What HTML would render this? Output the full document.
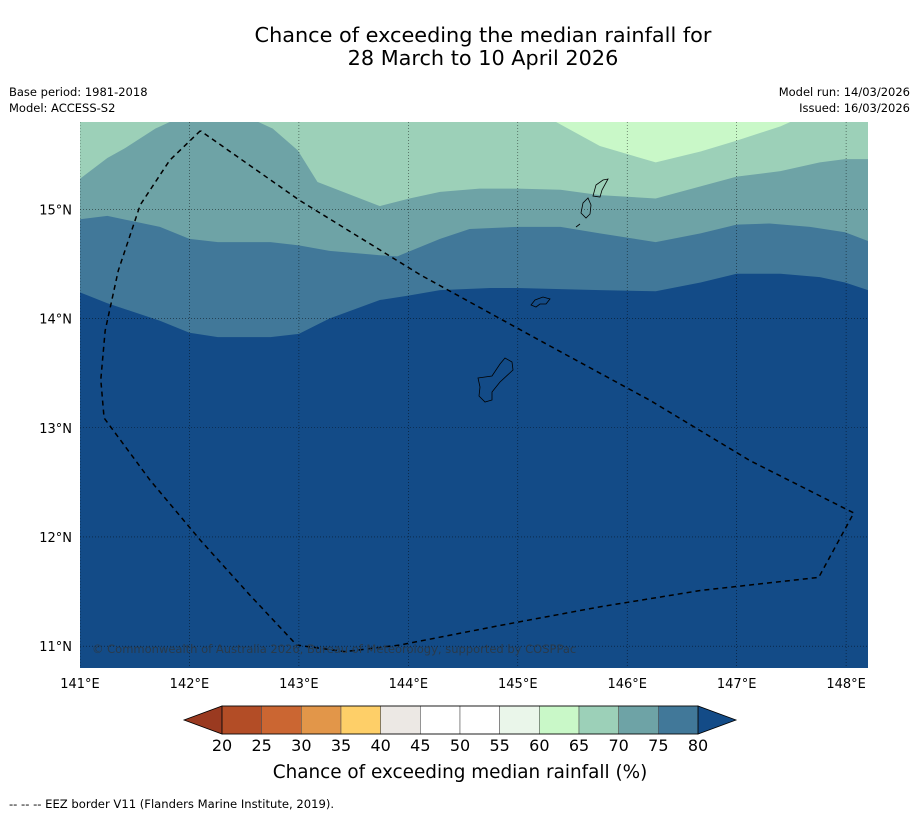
<!DOCTYPE html>
<html><head><meta charset="utf-8"><style>
body{margin:0;background:#fff;}
svg text{font-family:"DejaVu Sans","Liberation Sans",sans-serif;}
</style></head><body>
<svg id="chart" width="919" height="816" viewBox="0 0 919 816" xmlns="http://www.w3.org/2000/svg">
<text x="483" y="42" font-size="20.8" text-anchor="middle">Chance of exceeding the median rainfall for</text>
<text x="483" y="65" font-size="20.8" text-anchor="middle">28 March to 10 April 2026</text>
<text x="9" y="96" font-size="11.5">Base period: 1981-2018</text>
<text x="9" y="112" font-size="11.5">Model: ACCESS-S2</text>
<text x="910" y="96" font-size="11.5" text-anchor="end">Model run: 14/03/2026</text>
<text x="910" y="112" font-size="11.5" text-anchor="end">Issued: 16/03/2026</text>
<defs><clipPath id="mapclip"><rect x="80" y="122" width="788" height="546"/></clipPath></defs>
<g id="map" clip-path="url(#mapclip)"></g>
<g id="axes"></g>
<g id="cbar"></g>
<text x="460" y="778" font-size="18.4" text-anchor="middle">Chance of exceeding median rainfall (%)</text>
<text x="9" y="808" font-size="11.6">--  --  -- EEZ border V11 (Flanders Marine Institute, 2019).</text>
</svg>
<script>
const lonTicks=[141,142,143,144,145,146,147,148];
const latTicks=[11,12,13,14,15];
const cLevels=[20,25,30,35,40,45,50,55,60,65,70,75,80];
const cColors=["#b34d26","#cb6632","#e29649","#fecf68","#ece8e4","#ffffff","#ffffff","#eaf6ea","#c9f8c8","#9cd0b8","#6ea3a6","#417899"];
const b80Lon=[141,141.25,141.73,142,142.26,142.74,143,143.28,143.74,144,144.29,144.75,145,145.39,145.75,146.26,146.67,147,147.4,147.76,147.99,148.2];
const b80Lat=[14.24,14.14,13.98,13.87,13.83,13.83,13.86,14.0,14.17,14.21,14.26,14.28,14.28,14.27,14.26,14.25,14.33,14.41,14.41,14.38,14.33,14.26];
const b75Lon=[141,141.25,141.73,142,142.26,142.74,143,143.28,143.74,143.9,144.29,144.56,145,145.39,145.75,146.26,146.67,147,147.3,147.67,147.99,148.2];
const b75Lat=[14.91,14.94,14.84,14.73,14.70,14.70,14.67,14.62,14.58,14.57,14.73,14.82,14.84,14.84,14.78,14.70,14.78,14.86,14.87,14.84,14.79,14.71];
const b70Lon=[141,141.25,141.41,141.69,141.82,142.63,142.76,142.99,143.17,143.74,144.01,144.29,144.65,145,145.39,145.75,146.26,146.67,147,147.4,147.76,147.99,148.2];
const b70Lat=[15.28,15.47,15.56,15.74,15.80,15.80,15.74,15.54,15.25,15.03,15.10,15.16,15.19,15.19,15.18,15.13,15.10,15.21,15.30,15.35,15.43,15.46,15.46];
const b65Lon=[145.35,145.75,146.26,146.67,147,147.4,147.49];
const b65Lat=[15.80,15.58,15.43,15.53,15.63,15.76,15.80];
const eezLon=[142.1,141.82,141.55,141.35,141.23,141.19,141.22,141.64,142.1,142.55,142.98,143.42,143.92,144.84,145.75,146.67,147.75,148.07,147.99,147.12,146.21,145.2,144.11,143.01,142.1];
const eezLat=[15.72,15.45,15.04,14.44,13.89,13.44,13.09,12.52,11.97,11.47,11.01,10.95,11.01,11.19,11.36,11.51,11.63,12.22,12.26,12.70,13.25,13.80,14.40,15.08,15.72];
const LON0=141,LON1=148.2,LAT0=10.8,LAT1=15.8;
const X0=80,X1=868,Y0=122,Y1=668;
const xs=l=>X0+(l-LON0)/(LON1-LON0)*(X1-X0);
const ys=l=>Y1-(l-LAT0)/(LAT1-LAT0)*(Y1-Y0);
const NS="http://www.w3.org/2000/svg";
function mk(t,a,p){const e=document.createElementNS(NS,t);for(const k in a)e.setAttribute(k,a[k]);p.appendChild(e);return e;}
const map=document.getElementById('map');
const bg=mk('rect',{x:X0,y:Y0,width:X1-X0,height:Y1-Y0,fill:'#134b87'},map);


function band(lons,lats,col,name){
  let pts=lons.map((l,i)=>xs(l)+','+ys(lats[i]));
  pts.push(xs(lons[lons.length-1])+','+ys(LAT1));pts.push(xs(lons[0])+','+ys(LAT1));
  const p=mk('polygon',{points:pts.join(' '),fill:col},map);
  
  
}
band(b80Lon,b80Lat,cColors[11],'band-75-80');
band(b75Lon,b75Lat,cColors[10],'band-70-75');
band(b70Lon,b70Lat,cColors[9],'band-65-70');
band(b65Lon,b65Lat,cColors[8],'band-60-65');
lonTicks.forEach(l=>{const g=mk('line',{x1:xs(l),x2:xs(l),y1:Y0,y2:Y1,stroke:'#000','stroke-width':0.6,'stroke-dasharray':'1,2',opacity:0.7},map);

});
latTicks.forEach(l=>{const g=mk('line',{x1:X0,x2:X1,y1:ys(l),y2:ys(l),stroke:'#000','stroke-width':0.6,'stroke-dasharray':'1,2',opacity:0.7},map);

});
const isl=["M478,378 L492,376 L500,364 L505,358 L512,362 L513,370 L500,382 L492,392 L492,400 L485,402 L479,396 L480,387 Z",
"M531,305 L535,300 L543,297 L550,299 L546,304 L540,304 L536,307 Z",
"M581,213 L583,203 L588,198 L591,205 L590,214 L586,218 Z",
"M593,196 L596,185 L603,180 L608,179 L602,190 L600,197 Z",
"M576,227 L580,224"];
isl.forEach(d=>{const p=mk('path',{d:d,fill:'none',stroke:'#000','stroke-width':0.8},map);

});
const eez=mk('polyline',{points:eezLon.map((l,i)=>xs(l)+','+ys(eezLat[i])).join(' '),fill:'none',stroke:'#000','stroke-width':1.5,'stroke-dasharray':'5,4'},map);


const cp=mk('text',{x:92,y:653,'font-size':11.5,fill:'#2a3a4a'},map);cp.textContent='© Commonwealth of Australia 2026, Bureau of Meteorology, supported by COSPPac';


const ax=document.getElementById('axes');
lonTicks.forEach(l=>{const t=mk('text',{x:xs(l),y:688,'font-size':13,'text-anchor':'middle'},ax);t.textContent=l+'°E';

});
latTicks.forEach(l=>{const t=mk('text',{x:72,y:ys(l)+5,'font-size':13,'text-anchor':'end'},ax);t.textContent=l+'°N';

});
const cb=document.getElementById('cbar');
const CB0=222,CB1=698,CBY=706,CBH=28;
const cx=v=>CB0+(v-cLevels[0])/(cLevels[cLevels.length-1]-cLevels[0])*(CB1-CB0);
const lt=mk('polygon',{points:`${CB0},${CBY} ${CB0},${CBY+CBH} 184,${CBY+CBH/2}`,fill:'#9a3a20',stroke:'#000','stroke-width':0.8},cb);


const rt=mk('polygon',{points:`${CB1},${CBY} ${CB1},${CBY+CBH} 736,${CBY+CBH/2}`,fill:'#134b87',stroke:'#000','stroke-width':0.8},cb);


cColors.forEach((c,i)=>{const r=mk('rect',{x:cx(cLevels[i]),y:CBY,width:cx(cLevels[i+1])-cx(cLevels[i]),height:CBH,fill:c,stroke:'#555','stroke-width':0.6},cb);

});
mk('rect',{x:CB0,y:CBY,width:CB1-CB0,height:CBH,fill:'none',stroke:'#000','stroke-width':0.8},cb);
cLevels.forEach(v=>{const t=mk('text',{x:cx(v),y:751,'font-size':16,'text-anchor':'middle'},cb);t.textContent=v;

});
</script>
</body></html>
